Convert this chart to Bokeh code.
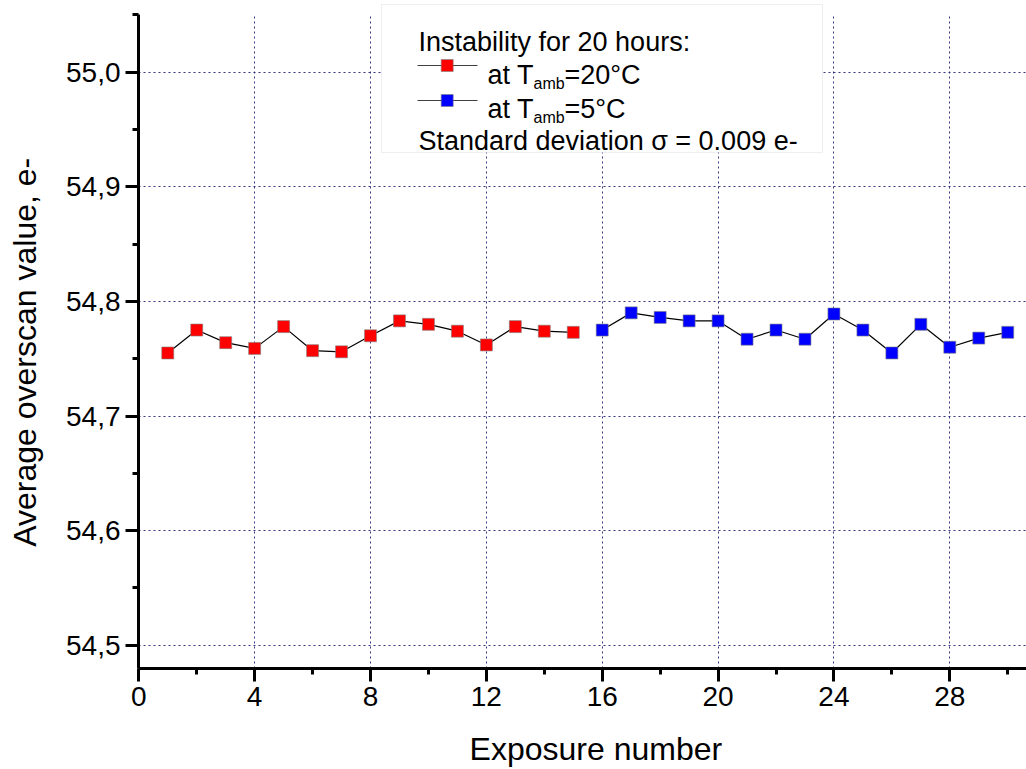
import math
from bokeh.plotting import figure
from bokeh.models import FixedTicker, Label, BoxAnnotation, Range1d, ColumnDataSource
from bokeh.embed import file_html
from bokeh.resources import INLINE

# ---------------- data ----------------
exposure_20 = [1, 2, 3, 4, 5, 6, 7, 8, 9, 10, 11, 12, 13, 14, 15]
overscan_20 = [54.755, 54.775, 54.764, 54.759, 54.778, 54.757, 54.756, 54.770,
               54.783, 54.780, 54.774, 54.762, 54.778, 54.774, 54.773]
exposure_5 = [16, 17, 18, 19, 20, 21, 22, 23, 24, 25, 26, 27, 28, 29, 30]
overscan_5 = [54.775, 54.790, 54.786, 54.783, 54.783, 54.767, 54.775, 54.767,
              54.789, 54.775, 54.755, 54.780, 54.760, 54.768, 54.773]

x_major = [0, 4, 8, 12, 16, 20, 24, 28]
x_minor = [2, 6, 10, 14, 18, 22, 26, 30]
x_labels = ["0", "4", "8", "12", "16", "20", "24", "28"]
y_major = [54.5, 54.6, 54.7, 54.8, 54.9, 55.0]
y_minor = [54.55, 54.65, 54.75, 54.85, 54.95, 55.05]
y_labels = ["54,5", "54,6", "54,7", "54,8", "54,9", "55,0"]

x_title = "Exposure number"
y_title = "Average overscan value, e-"
legend_title = "Instability for 20 hours:"
legend_20 = ("at T", "amb", "=20°C")
legend_5 = ("at T", "amb", "=5°C")
legend_note = "Standard deviation σ = 0.009 e-"

# ---------------- geometry ----------------
W, H = 1026, 769
FL, FB = 138, 668          # frame left / bottom in canvas px (top = 0, right = W)
X0PX, XPU = 138.3, 28.964  # pixel of x=0, pixels per x unit
Y55PX, YPU = 71.7, 1146.0  # pixel of y=55.0, pixels per y unit


def dx(px):
    return (px - X0PX) / XPU


def dy(py):
    return 55.0 - (py - Y55PX) / YPU


FONT = "Liberation Sans"
GRID = "#202070"

p = figure(frame_width=W - FL, frame_height=FB, output_backend="svg",
           toolbar_location=None,
           x_range=Range1d(dx(FL), dx(W)), y_range=Range1d(dy(FB), dy(0)),
           min_border_left=FL, min_border_right=0, min_border_top=0,
           min_border_bottom=H - FB)
p.outline_line_color = None
p.background_fill_color = "white"
p.border_fill_color = "white"

# axes
p.xaxis.ticker = FixedTicker(ticks=x_major, minor_ticks=x_minor)
p.yaxis.ticker = FixedTicker(ticks=y_major, minor_ticks=y_minor)
p.xaxis.major_label_overrides = {t: l for t, l in zip(x_major, x_labels)}
p.yaxis.major_label_overrides = {t: l for t, l in zip(y_major, y_labels)}
p.yaxis.bounds = (dy(FB), 55.0505)
for ax in (p.xaxis, p.yaxis):
    ax.axis_line_width = 3
    ax.axis_line_color = "black"
    ax.major_tick_line_width = 3
    ax.minor_tick_line_width = 3
    ax.major_tick_line_color = "black"
    ax.minor_tick_line_color = "black"
    ax.major_tick_in = 0
    ax.minor_tick_in = 0
    ax.major_tick_out = 13
    ax.minor_tick_out = 6
    ax.major_label_text_font = FONT
    ax.major_label_text_font_size = "28px"
    ax.major_label_text_color = "black"
    ax.axis_label_text_font = FONT
    ax.axis_label_text_font_size = "32px"
    ax.axis_label_text_font_style = "normal"
    ax.axis_label_text_color = "black"
p.xaxis.major_label_standoff = 5
p.yaxis.major_label_standoff = 5
# no-break spaces shift the centred titles to where the reference has them
p.xaxis.axis_label = "\u00a0" * 3 + x_title
p.xaxis.axis_label_standoff = 22
p.yaxis.axis_label = y_title + "\u00a0" * 4
p.yaxis.axis_label_standoff = 20

# grid
for g in (p.xgrid, p.ygrid):
    g.grid_line_color = GRID
    g.grid_line_dash = "2 3"
    g.grid_line_width = 1
    g.grid_line_alpha = 0.9
try:
    if "cross_bounds" in p.xgrid[0].properties():
        p.xgrid[0].cross_bounds = (dy(FB), 55.05)
except Exception:
    pass

# legend box (under glyphs, over grid)
box = BoxAnnotation(left=dx(381), right=dx(822), top=dy(4), bottom=dy(152),
                    fill_color="white", fill_alpha=1.0, line_color="#c8c8c8",
                    line_width=1, level="underlay")
p.add_layout(box)

# data
src20 = ColumnDataSource(dict(x=exposure_20, y=overscan_20))
src5 = ColumnDataSource(dict(x=exposure_5, y=overscan_5))
for src, col in ((src20, "#ff0000"), (src5, "#0000ff")):
    p.line("x", "y", source=src, line_color="black", line_width=1.2)
    p.scatter("x", "y", source=src, marker="square", size=12,
              fill_color=col, line_color="#808080", line_width=0.6)

# legend samples
for py, col in ((65, "#ff0000"), (100, "#0000ff")):
    p.segment(x0=[dx(417)], y0=[dy(py)], x1=[dx(477)], y1=[dy(py)],
              line_color="#404040", line_width=1.2)
    p.scatter(x=[dx(446.7)], y=[dy(py)], marker="square", size=12,
              fill_color=col, line_color="#808080", line_width=0.6)


def lab(text, px, py, size, **kw):
    p.add_layout(Label(x=dx(px), y=dy(py), text=text, text_font=FONT,
                       text_font_size=size, text_color="black",
                       text_baseline="alphabetic", **kw))


lab(legend_title, 418, 41.7, "27px")
for (a, sub, b), base in ((legend_20, 74), (legend_5, 108.5)):
    lab(a, 487, base, "27px")
    lab(sub, 533, base + 8.5, "16px")
    lab(b, 564, base, "27px")
lab(legend_note, 418, 140.7, "27px")

open("out.html", "w").write(file_html(p, INLINE))
